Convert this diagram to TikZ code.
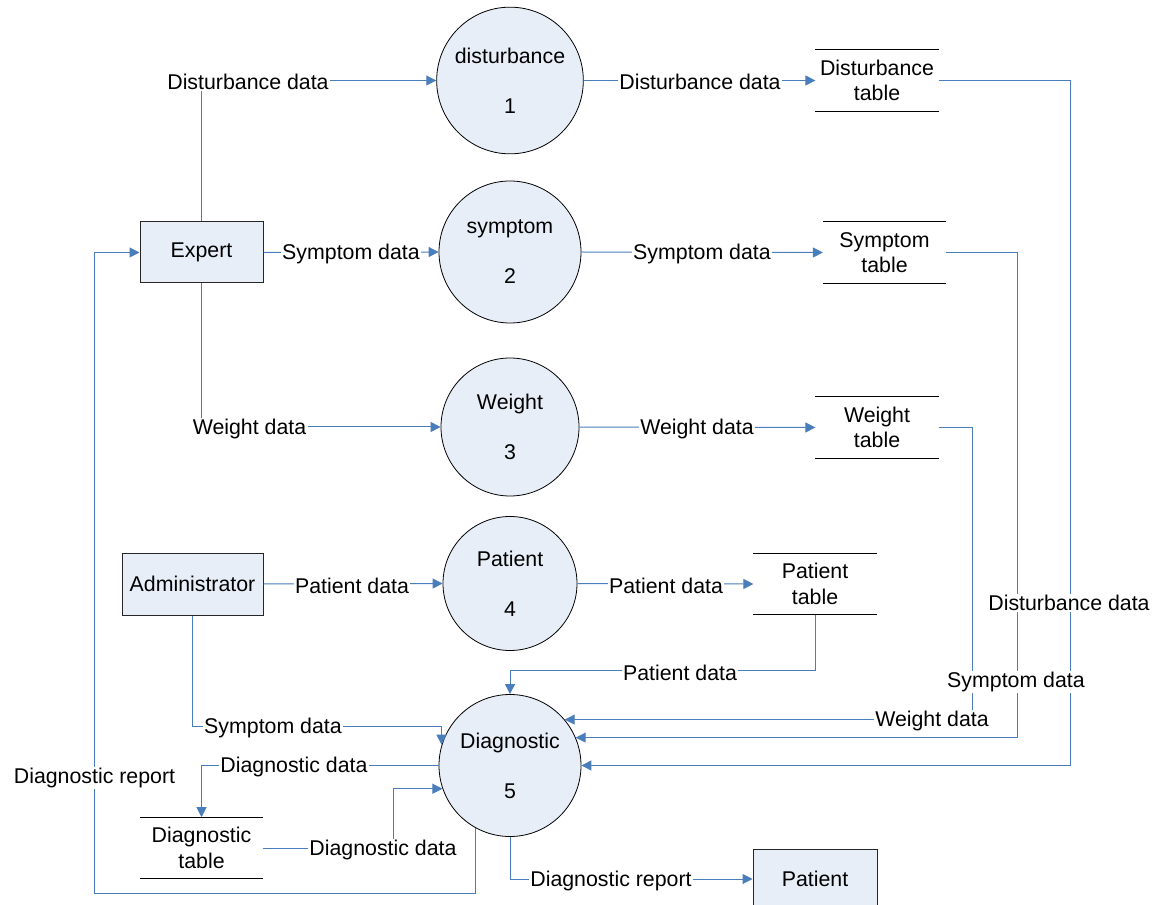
\documentclass[tikz,border=0pt]{standalone}
\usepackage{fontspec}
\setmainfont{Liberation Sans}
\usetikzlibrary{arrows.meta}
\definecolor{flowblue}{RGB}{74,126,187}
\definecolor{procfill}{RGB}{232,238,247}

\begin{document}
\begin{tikzpicture}[x=0.75pt,y=-0.75pt,
  font=\fontsize{16}{19}\selectfont,
  link/.style={draw=flowblue, line width=0.75pt},
  flow/.style={link, -{Triangle[length=7.5pt,width=7.5pt]}},
  proc/.style={circle, draw=black, line width=0.6pt, fill=procfill, inner sep=0pt, align=center},
  ext/.style={rectangle, draw=black!85, line width=0.75pt, fill=procfill, inner sep=0pt},
  store/.style={rectangle, inner sep=0pt, minimum width=92pt, minimum height=45.75pt, align=center},
  storeline/.style={draw=black, line width=0.6pt},
  lbl/.style={fill=white, inner sep=1pt, yshift=-1.5pt}
]
\useasboundingbox (0,0) rectangle (1164,905);

% processes
\node[proc, minimum size=110pt]   (c1) at (510,80.5)  {disturbance\\[18.5pt]1};
\node[proc, minimum size=106.5pt] (c2) at (510,252)   {symptom\\[18.5pt]2};
\node[proc, minimum size=103.5pt] (c3) at (510,427)   {Weight\\[18.5pt]3};
\node[proc, minimum size=100.5pt] (c4) at (510,583.5) {Patient\\[18.5pt]4};
\node[proc, minimum size=106.5pt] (c5) at (510,765.5) {Diagnostic\\[18.5pt]5};

% external entities
\node[ext, minimum width=92.25pt, minimum height=45.75pt] (ex)  at (201.5,252.5) {Expert};
\node[ext, minimum width=105.75pt, minimum height=46.5pt] (adm) at (192.5,584)   {Administrator};
\node[ext, minimum width=93pt, minimum height=45pt]       (pat) at (815,879)     {Patient};

% data stores
\node[store] (dt)  at (877,80.5)   {Disturbance\\table};
\node[store] (st)  at (884.5,252.5) {Symptom\\table};
\node[store] (wt)  at (877,427.5)  {Weight\\table};
\node[store] (pt)  at (815,584)    {Patient\\table};
\node[store] (dgt) at (201.5,848)  {Diagnostic\\table};
\foreach \s in {dt,st,wt,pt,dgt}
  \draw[storeline] (\s.north west) -- (\s.north east) (\s.south west) -- (\s.south east);

% helper corners
\coordinate (k1) at (441.5,726);
\coordinate (k2) at (94,893);

% flows from the expert
\draw[flow] (ex.north) |- (c1.west);
\draw[flow] (ex.east) -- (c2.west);
\draw[flow] (ex.south) |- (c3.west);

% flows into the stores
\draw[flow] (c1.east) -- (dt.west);
\draw[flow] (c2.east) -- (st.west);
\draw[flow] (c3.east) -- (wt.west);
\draw[flow] (adm.east) -- (c4.west);
\draw[flow] (c4.east) -- (pt.west);

% flows into the diagnostic process
\draw[flow] (pt.south) -- ++(0,56) -| (c5.north);
\draw[flow] (wt.east) -- ++(34,0) |- (c5.40.4);
\draw[flow] (st.east) -- ++(71,0) |- (c5.23.2);
\draw[flow] (dt.east) -- ++(132,0) |- (c5.east);
\draw[flow] (adm.south) |- (k1) -- (k1 |- c5.163.8);
\draw[flow] (c5.west) -| (dgt.north);
\draw[flow] (dgt.east) -- ++(130,0) |- (c5.199.8);

% reports
\draw[flow] (c5.241.6) |- (k2) |- (ex.west);
\draw[flow] (c5.south) |- (pat.west);

% flow labels
\node[lbl] (l1)  at (248,80)    {Disturbance data};
\node[lbl] (l2)  at (351,252)   {Symptom data};
\node[lbl] (l3)  at (249.5,427) {Weight data};
\node[lbl] (l4)  at (700,80)    {Disturbance data};
\node[lbl] (l5)  at (702,252)   {Symptom data};
\node[lbl] (l6)  at (697,427)   {Weight data};
\node[lbl] (l7)  at (352,584)   {Patient data};
\node[lbl] (l8)  at (666,584)   {Patient data};
\node[lbl] (l9)  at (680,671)   {Patient data};
\node[lbl] (l10) at (932,719)   {Weight data};
\node[lbl] (l11) at (1016,680)  {Symptom data};
\node[lbl] (l12) at (1069,601)  {Disturbance data};
\node[lbl] (l13) at (273,726)   {Symptom data};
\node[lbl] (l14) at (294,765)   {Diagnostic data};
\node[lbl] (l15) at (383,848)   {Diagnostic data};
\node[lbl] (l16) at (94.5,776)  {Diagnostic report};
\node[lbl] (l17) at (611,879)   {Diagnostic report};
\end{tikzpicture}
\end{document}
